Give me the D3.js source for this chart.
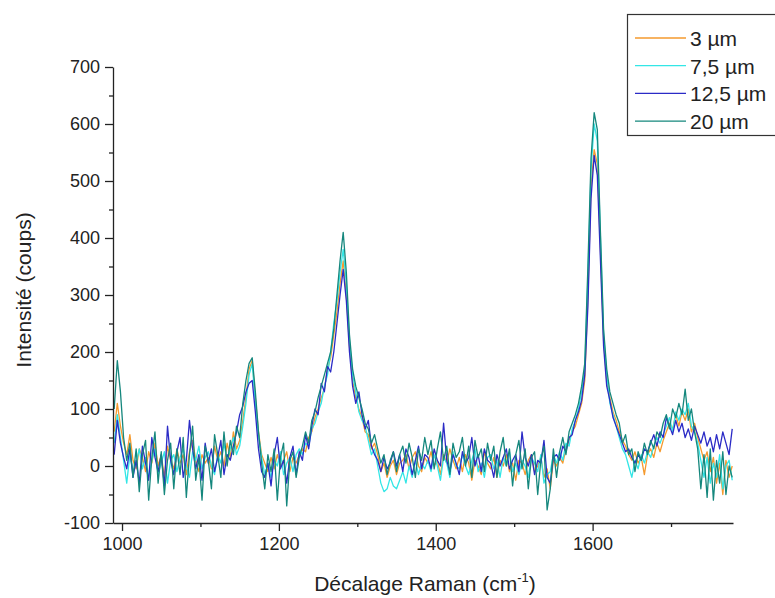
<!DOCTYPE html>
<html><head><meta charset="utf-8">
<script src="https://cdn.jsdelivr.net/npm/d3@7"></script>
<style>
body{margin:0;background:#fff}
svg{display:block}
text{font-family:"Liberation Sans",Arial,Helvetica,sans-serif;fill:#222}
</style></head>
<body><svg id="chart" width="775" height="598"></svg>
<script>
// Raman shift grid (cm-1)
const shiftStart = 990, shiftStep = 4;
const seriesNames = ["3 µm", "7,5 µm", "12,5 µm", "20 µm"];
const seriesColors = ["#F59A2E", "#33E6E6", "#2B2BC6", "#15877D"];
const xTickValues = [1000, 1200, 1400, 1600];
const xMinorValues = [1100, 1300, 1500, 1700];
const yTickValues = [-100, 0, 100, 200, 300, 400, 500, 600, 700];
const yMinorValues = [-50, 50, 150, 250, 350, 450, 550, 650];

const s3 = [
 60,110,70,40,20,55,10,-5,30,15,
 -10,25,5,40,0,20,-20,35,10,-5,
 30,5,20,-15,25,45,10,-10,20,5,
 15,-5,35,10,25,0,40,15,60,30,
 45,80,120,170,185,120,60,20,5,-10,
 15,-5,20,0,10,25,-10,15,5,20,
 30,25,50,60,85,100,120,135,170,190,
 230,270,320,360,300,210,150,120,100,85,
 60,55,30,40,20,-10,5,-20,0,10,
 -15,5,10,20,-5,15,25,0,-10,15,
 5,25,0,10,-15,20,5,30,10,-5,
 15,-10,20,5,-25,10,0,-15,25,5,
 -5,15,-20,10,0,20,-10,5,-25,10,
 5,-15,10,20,-10,0,15,-20,-5,-40,
 10,0,15,5,30,45,60,70,90,110,
 150,300,490,555,530,380,220,150,120,95,
 80,60,45,35,20,10,25,5,15,-15,
 20,30,15,40,25,45,60,75,65,90,
 70,95,80,100,60,75,50,30,10,25,
 -10,15,-30,5,-50,10,-20,0
];
const s7 = [
 40,90,50,10,-30,20,-10,5,30,-5,
 15,-20,10,30,-15,5,25,-30,10,20,
 -10,15,30,0,-20,25,10,35,-5,15,
 25,0,-15,20,5,40,10,30,50,20,
 35,70,110,160,180,110,55,15,-15,5,
 -20,10,0,25,-15,5,15,-10,20,30,
 20,40,35,65,75,95,110,140,160,200,
 250,290,340,380,320,220,160,130,95,80,
 70,45,20,30,0,-30,-45,-40,-20,-35,
 -40,-25,-10,-30,0,-20,10,-15,5,-5,
 10,-10,20,0,-25,15,5,-20,25,0,
 -5,20,0,-15,10,30,-10,5,-20,15,
 20,-5,10,-20,15,0,25,-10,5,-15,
 10,0,-20,15,5,-10,20,-30,-15,-10,
 20,5,25,10,40,35,65,80,100,130,
 170,330,520,600,570,400,230,160,110,90,
 70,50,30,20,0,-20,10,-5,20,5,
 25,15,35,50,40,55,70,85,60,95,
 80,100,90,110,70,60,40,10,-20,15,
 -30,5,-20,20,-40,0,10,-25
];
const s12 = [
 20,80,40,15,-5,30,-20,10,-30,35,
 5,-25,50,15,-10,20,-35,70,10,-15,
 25,50,-20,10,80,30,-5,20,-25,40,
 5,30,-10,15,45,-15,20,10,35,60,
 90,105,130,145,150,95,30,-10,-20,5,
 -35,20,50,-5,10,-30,15,35,-15,25,
 10,55,30,70,100,90,145,130,175,165,
 200,250,300,345,290,200,140,110,130,90,
 65,80,35,20,10,-10,15,-5,5,25,
 0,20,-10,30,15,-15,10,35,-5,20,
 15,-5,30,10,0,75,10,-10,20,5,
 -15,25,5,15,50,0,20,-10,30,10,
 5,-20,20,0,15,30,-5,10,20,-10,
 60,15,0,20,-15,10,5,45,-20,-30,
 15,20,10,35,25,50,55,80,95,115,
 160,280,470,545,510,360,210,140,115,85,
 70,55,40,25,30,15,5,20,10,30,
 25,40,55,35,60,50,85,70,55,80,
 60,75,50,65,45,70,55,40,60,35,
 50,25,55,30,60,40,20,65
];
const s20 = [
 100,185,130,50,10,40,-20,30,-45,20,
 45,-60,15,60,-30,25,-50,10,40,-40,
 30,-15,50,-55,20,70,-25,15,-60,35,
 10,-40,55,20,-20,60,0,45,20,70,
 50,110,150,180,190,130,60,5,-40,20,
 -10,30,-60,15,40,-70,10,25,-20,15,
 35,60,40,80,95,120,140,160,180,200,
 240,300,360,410,340,230,170,140,120,100,
 75,65,40,55,30,5,20,-15,10,25,
 -10,20,35,5,40,15,-20,30,10,50,
 20,45,-5,30,60,10,35,-15,40,15,
 25,50,0,35,-20,45,15,30,-10,40,
 10,35,-20,25,50,0,30,-35,20,45,
 -5,30,-40,15,25,-50,10,35,-77,-40,
 30,-20,25,50,20,60,75,90,110,140,
 180,350,540,620,590,410,240,170,130,110,
 90,75,40,55,20,30,-10,25,10,40,
 20,45,30,60,50,75,90,65,100,85,
 110,90,135,80,100,60,30,-40,20,-55,
 30,-60,10,-30,25,-50,0,-20
];
const seriesValues = [s3, s7, s12, s20];

const svg = d3.select("#chart");
const x = d3.scaleLinear().domain([988.5, 1779]).range([113, 733]);
const y = d3.scaleLinear().domain([-100, 700]).range([523, 67]);

svg.append("defs").append("clipPath").attr("id", "clip")
  .append("rect").attr("x", 113).attr("y", 40).attr("width", 621).attr("height", 483);

const line = d3.line()
  .x((d, i) => x(shiftStart + i * shiftStep))
  .y(d => y(d));

const plot = svg.append("g").attr("clip-path", "url(#clip)");
seriesValues.forEach((vals, k) => {
  plot.append("path").datum(vals)
    .attr("fill", "none")
    .attr("stroke", seriesColors[k])
    .attr("stroke-width", 1.3)
    .attr("stroke-linejoin", "round")
    .attr("d", line);
});

// axes
const plain = d => String(d);
const xAxis = svg.append("g").attr("transform", "translate(0,523)")
  .call(d3.axisBottom(x).tickValues(xTickValues).tickSize(8).tickSizeOuter(0).tickPadding(6).tickFormat(plain));
const xMinor = svg.append("g").attr("transform", "translate(0,523)")
  .call(d3.axisBottom(x).tickValues(xMinorValues).tickSize(4).tickFormat(""));
xMinor.select(".domain").remove();

const yAxis = svg.append("g").attr("transform", "translate(113,0)")
  .call(d3.axisLeft(y).tickValues(yTickValues).tickSize(8).tickSizeOuter(0).tickPadding(5).tickFormat(plain));
const yMinor = svg.append("g").attr("transform", "translate(113,0)")
  .call(d3.axisLeft(y).tickValues(yMinorValues).tickSize(4).tickFormat(""));
yMinor.select(".domain").remove();

svg.selectAll(".tick line, .domain").attr("stroke", "#222").attr("stroke-width", 1.3);
svg.selectAll(".tick text").attr("font-size", 18).attr("fill", "#222")
  .style("font-family", '"Liberation Sans",Arial,sans-serif');

// axis titles
svg.append("text").attr("transform", "translate(31,290) rotate(-90)")
  .attr("text-anchor", "middle").attr("font-size", 21).text("Intensité (coups)");
const xt = svg.append("text").attr("x", 425).attr("y", 591)
  .attr("text-anchor", "middle").attr("font-size", 21);
xt.append("tspan").text("Décalage Raman (cm");
xt.append("tspan").attr("font-size", 13).attr("dy", -9).text("-1");
xt.append("tspan").attr("dy", 9).text(")");

// legend
const lg = svg.append("g");
lg.append("rect").attr("x", 627.5).attr("y", 14.5).attr("width", 160).attr("height", 121)
  .attr("fill", "#fff").attr("stroke", "#333").attr("stroke-width", 1.2);
seriesNames.forEach((name, k) => {
  const ly = 38 + k * 27.7;
  lg.append("line").attr("x1", 635).attr("x2", 686).attr("y1", ly).attr("y2", ly)
    .attr("stroke", seriesColors[k]).attr("stroke-width", 1.3);
  lg.append("text").attr("x", 690).attr("y", ly + 8).attr("font-size", 21).text(name);
});
</script></body></html>
